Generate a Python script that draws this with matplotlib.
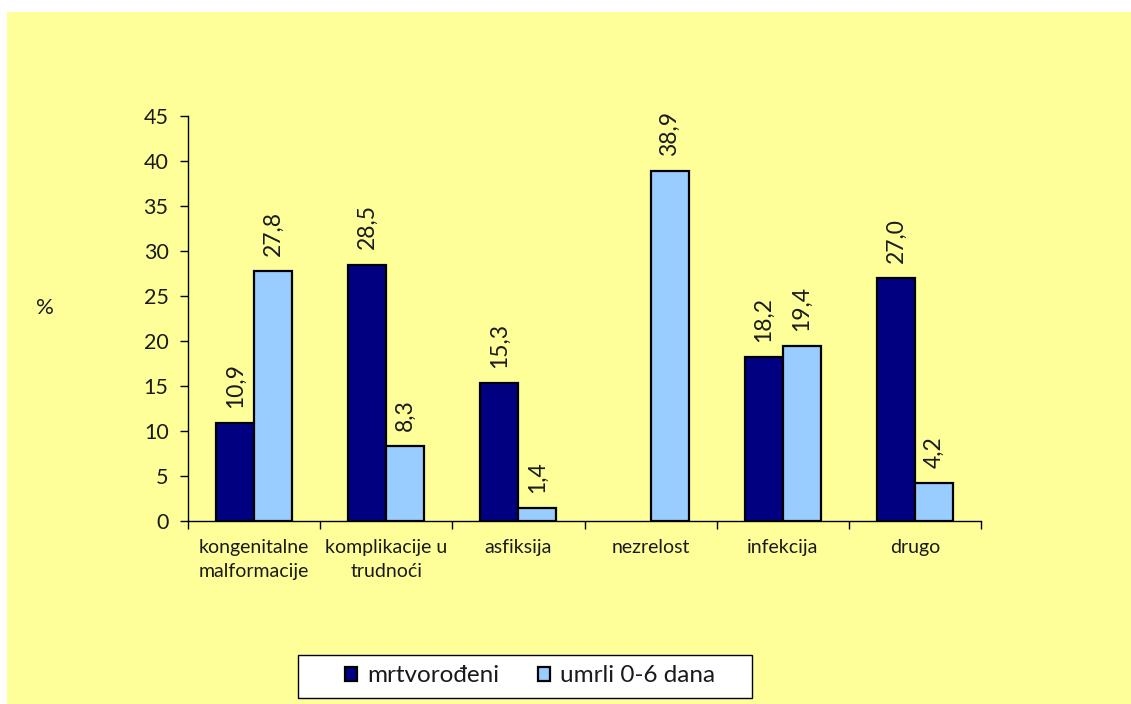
import matplotlib
matplotlib.use("Agg")
import matplotlib.pyplot as plt
import numpy as np
from matplotlib.patches import Rectangle

categories = ["kongenitalne\nmalformacije", "komplikacije u\ntrudnoći", "asfiksija",
              "nezrelost", "infekcija", "drugo"]
mrtvorodeni = [10.9, 28.5, 15.3, None, 18.2, 27.0]
umrli_0_6 = [27.8, 8.3, 1.4, 38.9, 19.4, 4.2]
series_names = ["mrtvorođeni", "umrli 0-6 dana"]
yticks = [0, 5, 10, 15, 20, 25, 30, 35, 40, 45]

plt.rcParams['font.family'] = ['Lato', 'DejaVu Sans']
TXT = '#1a1a1a'

W, H = 1131, 704
fig = plt.figure(figsize=(W / 100, H / 100), dpi=100)
fig.patch.set_facecolor('white')
fig.patches.append(Rectangle((7 / W, 0), 1 - 7 / W, 1 - 12 / H, transform=fig.transFigure,
                             facecolor='#FFFF99', edgecolor='none', zorder=-10))

ax = fig.add_axes([188 / W, 1 - 521 / H, (981 - 188) / W, (521 - 116) / H])
ax.patch.set_alpha(0)

x = np.arange(len(categories))
bw = 0.288
dark = '#000080'
light = '#99CCFF'

d_vals = [v if v is not None else 0 for v in mrtvorodeni]
b1 = ax.bar(x - bw / 2, d_vals, bw, color=dark, edgecolor='black', linewidth=1.6,
            label=series_names[0])
b2 = ax.bar(x + bw / 2, umrli_0_6, bw, color=light, edgecolor='black', linewidth=1.6,
            label=series_names[1])
for i, v in enumerate(mrtvorodeni):
    if v is None:
        b1[i].set_visible(False)

def fmt(v):
    return f"{v:.1f}".replace('.', ',')

for i, v in enumerate(mrtvorodeni):
    if v is not None:
        ax.annotate(fmt(v), (x[i] - bw / 2, v), xytext=(0, 11), textcoords='offset points',
                    rotation=90, ha='center', va='bottom', fontsize=16.5, color=TXT)
for i, v in enumerate(umrli_0_6):
    ax.annotate(fmt(v), (x[i] + bw / 2, v), xytext=(0, 11), textcoords='offset points',
                rotation=90, ha='center', va='bottom', fontsize=16.5, color=TXT)

ax.set_xlim(-0.5, len(categories) - 0.5)
ax.set_ylim(0, 45)
ax.set_yticks(yticks)
ax.set_yticklabels([str(t) for t in yticks], fontsize=15.5, color=TXT)
ax.set_xticks(np.arange(len(categories) + 1) - 0.5)
ax.set_xticklabels([])
ax.set_xticks(x, minor=True)
ax.set_xticklabels(categories, minor=True, fontsize=14, linespacing=1.5, color=TXT)
ax.tick_params(axis='x', which='minor', length=0, pad=13)
ax.tick_params(axis='x', which='major', length=6, width=1, direction='out')
ax.tick_params(axis='y', length=6, width=1, direction='out', pad=8)

for s in ['top', 'right']:
    ax.spines[s].set_visible(False)
for s in ['left', 'bottom']:
    ax.spines[s].set_linewidth(1)
    ax.spines[s].set_color('black')

fig.text(45 / W, 1 - 308 / H, '%', fontsize=16, ha='center', va='center', color=TXT)

# legend box
fig.patches.append(Rectangle((298 / W, 1 - 698 / H), (752 - 298) / W, (698 - 655) / H,
                             transform=fig.transFigure, facecolor='white',
                             edgecolor='black', linewidth=1, zorder=1))
leg = fig.legend(handles=[b1, b2], labels=series_names, loc='center',
                 bbox_to_anchor=(530 / W, 1 - 676 / H), ncol=2, fontsize=17.5,
                 frameon=False, handlelength=0.5, handleheight=0.5, handletextpad=0.4,
                 columnspacing=1.6, borderpad=0, borderaxespad=0)
for t in leg.get_texts():
    t.set_color(TXT)
for h in leg.legend_handles:
    h.set_linewidth(1.6)

fig.savefig('out.png', dpi=100)
